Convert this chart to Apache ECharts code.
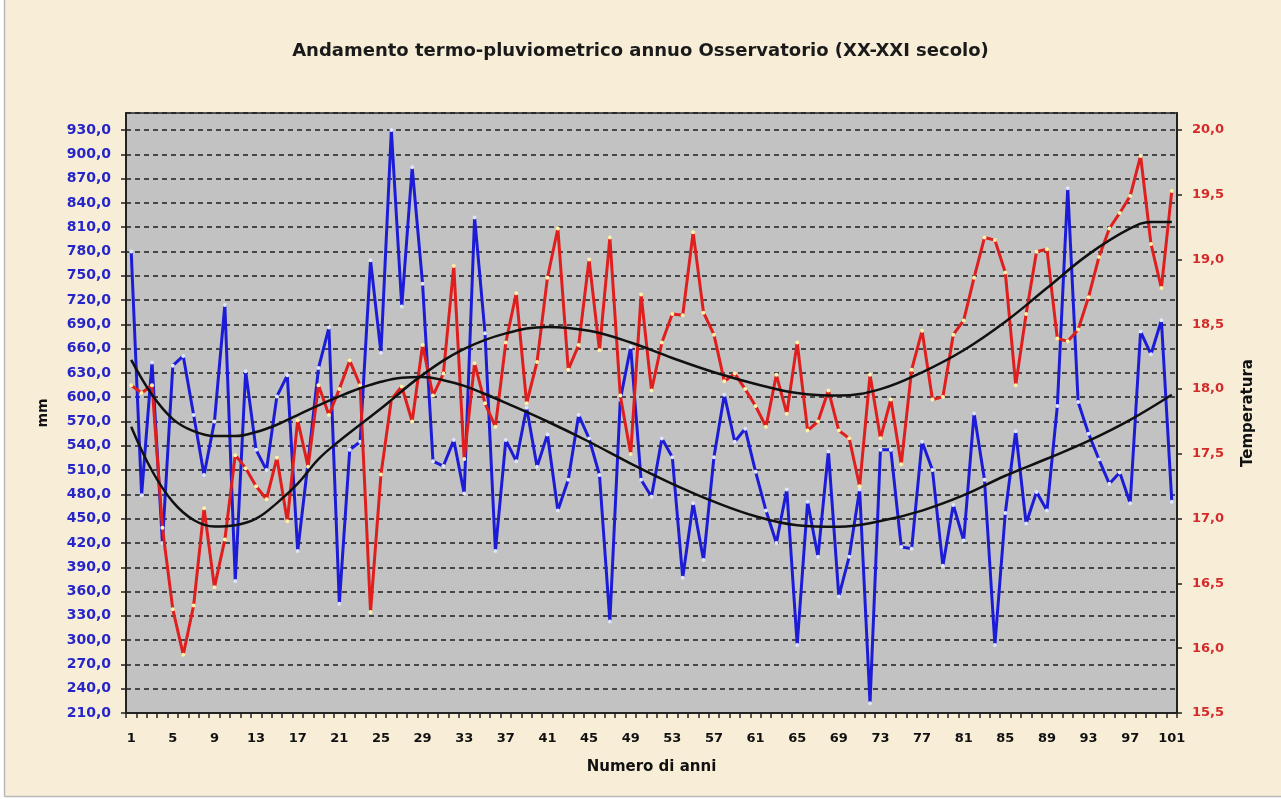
<!DOCTYPE html>
<html>
<head>
<meta charset="utf-8">
<script src="https://cdn.jsdelivr.net/npm/echarts@6/dist/echarts.min.js"></script>
<style>
html,body{margin:0;padding:0;background:#ffffff;}
#chart{width:1281px;height:799px;}
</style>
</head>
<body>
<div id="chart"></div>
<script>
// ---- DATA ----
const years = Array.from({length: 101}, (_, i) => String(i + 1));

const rainfallMm = [
  780, 479, 643, 420, 639, 651, 578, 504, 570, 714,
  373, 632, 535, 510, 601, 627, 410, 520, 636, 686,
  345, 535, 545, 769, 655, 930, 712, 884, 740, 521,
  515, 547, 481, 822, 679, 410, 547, 521, 587, 514,
  554, 460, 498, 578, 549, 504, 323, 597, 662, 498,
  477, 549, 526, 377, 469, 399, 526, 603, 545, 561,
  508, 460, 420, 486, 294, 471, 403, 533, 354, 403,
  486, 222, 535, 535, 415, 413, 545, 510, 392, 467,
  423, 580, 498, 294, 457, 558, 444, 483, 460, 589,
  858, 594, 555, 523, 493, 507, 469, 681, 653, 695,
  471
];

const temperatureC = [
  18.03, 17.97, 18.03, 16.93, 16.30, 15.95, 16.33, 17.08, 16.47, 16.84,
  17.49, 17.39, 17.25, 17.15, 17.47, 16.98, 17.76, 17.40, 18.03, 17.80,
  18.00, 18.22, 18.03, 16.28, 17.34, 17.92, 18.02, 17.75, 18.34, 17.95,
  18.12, 18.95, 17.46, 18.20, 17.89, 17.71, 18.36, 18.74, 17.89, 18.21,
  18.86, 19.24, 18.15, 18.34, 19.00, 18.30, 19.17, 17.95, 17.50, 18.73,
  17.99, 18.36, 18.58, 18.57, 19.21, 18.59, 18.42, 18.06, 18.12, 18.00,
  17.87, 17.71, 18.11, 17.81, 18.36, 17.68, 17.75, 17.99, 17.68, 17.62,
  17.25, 18.11, 17.62, 17.92, 17.42, 18.15, 18.45, 17.92, 17.94, 18.42,
  18.53, 18.86, 19.17, 19.15, 18.90, 18.03, 18.58, 19.06, 19.08, 18.39,
  18.37, 18.46, 18.71, 19.02, 19.24, 19.36, 19.49, 19.80, 19.12, 18.78,
  19.53
];

// trend curves read at selected years
const rainTrendYears = [1, 3, 5, 7, 9, 11, 13, 15, 17, 19, 21, 23, 25, 27, 29, 31, 33, 35, 37, 41, 45, 49, 53, 57, 61, 65, 69, 73, 77, 81, 85, 89, 93, 97, 101];
const rainTrendMm    = [646, 603, 573, 558, 552, 552, 557, 566, 578, 590, 601, 611, 619, 624, 625, 621, 614, 604, 593, 570, 545, 518, 493, 471, 453, 442, 440, 447, 460, 479, 503, 524, 546, 572, 603];

const tempTrendYears = [1, 3, 5, 7, 9, 11, 13, 15, 17, 19, 21, 25, 29, 33, 37, 41, 45, 49, 53, 57, 61, 65, 69, 73, 77, 81, 85, 89, 93, 97, 99, 101];
const tempTrendC     = [17.71, 17.37, 17.13, 16.99, 16.94, 16.95, 17.00, 17.12, 17.27, 17.46, 17.60, 17.85, 18.11, 18.31, 18.43, 18.48, 18.45, 18.36, 18.24, 18.13, 18.04, 17.97, 17.95, 18.00, 18.13, 18.30, 18.52, 18.78, 19.04, 19.24, 19.29, 19.29];

// ---- CHART ----
const chart = echarts.init(document.getElementById('chart'), null, {renderer: 'canvas'});
const fmt = v => v.toFixed(1).replace('.', ',');
const PLOT_TOP = 113, PLOT_BOTTOM = 713;
const leftMax = 930 + (130 - PLOT_TOP) * 30 / ((PLOT_BOTTOM - 130) / 24);
const rightMax = 20 + (130 - PLOT_TOP) * 0.5 / ((PLOT_BOTTOM - 130) / 9);

const option = {
  backgroundColor: '#f8eed8',
  animation: false,
  title: {
    text: 'Andamento termo-pluviometrico annuo Osservatorio (XX-XXI secolo)',
    left: 'center',
    top: 37,
    textStyle: {fontFamily: 'DejaVu Sans', fontWeight: 'bold', fontSize: 18, color: '#1a1a1a'}
  },
  graphic: [
    {type: 'rect', shape: {x: 0, y: 0, width: 4, height: 799}, style: {fill: '#ffffff'}, silent: true},
    {type: 'rect', shape: {x: 0, y: 797, width: 1281, height: 2}, style: {fill: '#ffffff'}, silent: true},
    {type: 'line', shape: {x1: 4.5, y1: 0, x2: 4.5, y2: 796.5}, style: {stroke: '#b8b8b8', lineWidth: 1.5}, silent: true},
    {type: 'line', shape: {x1: 4.5, y1: 796.5, x2: 1281, y2: 796.5}, style: {stroke: '#b8b8b8', lineWidth: 1.5}, silent: true}
  ],
  grid: {
    left: 126, right: 104, top: PLOT_TOP, bottom: 799 - PLOT_BOTTOM,
    show: true, backgroundColor: '#c2c2c2', borderColor: '#222222', borderWidth: 1.5
  },
  xAxis: {
    type: 'category',
    data: years,
    boundaryGap: true,
    name: 'Numero di anni',
    nameLocation: 'middle',
    nameGap: 47,
    nameTextStyle: {fontFamily: 'DejaVu Sans', fontWeight: 'bold', fontSize: 15, color: '#111'},
    axisLine: {lineStyle: {color: '#222', width: 2}},
    axisTick: {show: true, interval: 0, length: 5, lineStyle: {color: '#222', width: 1.5}},
    axisLabel: {interval: 3, margin: 19, fontFamily: 'DejaVu Sans', fontWeight: 'bold', fontSize: 13, color: '#111'},
    splitLine: {show: false}
  },
  yAxis: [
    {
      type: 'value',
      position: 'left',
      min: 210, max: leftMax, interval: 30,
      name: 'mm',
      nameLocation: 'middle',
      nameGap: 76,
      nameRotate: 90,
      nameTextStyle: {fontFamily: 'DejaVu Sans', fontWeight: 'bold', fontSize: 14, color: '#111'},
      axisLine: {show: true, lineStyle: {color: '#222', width: 2}},
      axisTick: {show: true, length: 5, lineStyle: {color: '#222', width: 1.5}},
      axisLabel: {showMaxLabel: false, margin: 15, formatter: fmt, fontFamily: 'DejaVu Sans', fontWeight: 'bold', fontSize: 14, color: '#2626c8'},
      splitLine: {show: true, lineStyle: {color: '#1e1e1e', width: 1.5, type: [5, 4]}}
    },
    {
      type: 'value',
      position: 'right',
      min: 15.5, max: rightMax, interval: 0.5,
      name: 'Temperatura',
      nameLocation: 'middle',
      nameGap: 64,
      nameRotate: 90,
      nameTextStyle: {fontFamily: 'DejaVu Sans', fontWeight: 'bold', fontSize: 15, color: '#111'},
      axisLine: {show: true, lineStyle: {color: '#222', width: 2}},
      axisTick: {show: true, length: 5, lineStyle: {color: '#222', width: 1.5}},
      axisLabel: {showMaxLabel: false, margin: 15, formatter: fmt, fontFamily: 'DejaVu Sans', fontWeight: 'bold', fontSize: 13, color: '#d42a2a'},
      splitLine: {show: false}
    }
  ],
  series: [
    {
      name: 'mm',
      type: 'line',
      yAxisIndex: 0,
      data: rainfallMm,
      symbol: 'circle',
      symbolSize: 4,
      itemStyle: {color: '#dfe4ff', borderWidth: 0},
      lineStyle: {color: '#1c1cd8', width: 3},
      z: 3
    },
    {
      name: 'Temperatura',
      type: 'line',
      yAxisIndex: 1,
      data: temperatureC,
      symbol: 'circle',
      symbolSize: 4,
      itemStyle: {color: '#fff2a8', borderWidth: 0},
      lineStyle: {color: '#e01e1e', width: 3},
      z: 4
    },
    {
      name: 'trend mm',
      type: 'line',
      yAxisIndex: 0,
      data: rainTrendYears.map((y, i) => [String(y), rainTrendMm[i]]),
      smooth: 0.4,
      showSymbol: false,
      lineStyle: {color: '#111', width: 2.5},
      z: 5
    },
    {
      name: 'trend temperatura',
      type: 'line',
      yAxisIndex: 1,
      data: tempTrendYears.map((y, i) => [String(y), tempTrendC[i]]),
      smooth: 0.4,
      showSymbol: false,
      lineStyle: {color: '#111', width: 2.5},
      z: 5
    }
  ]
};
chart.setOption(option);
</script>
</body>
</html>
